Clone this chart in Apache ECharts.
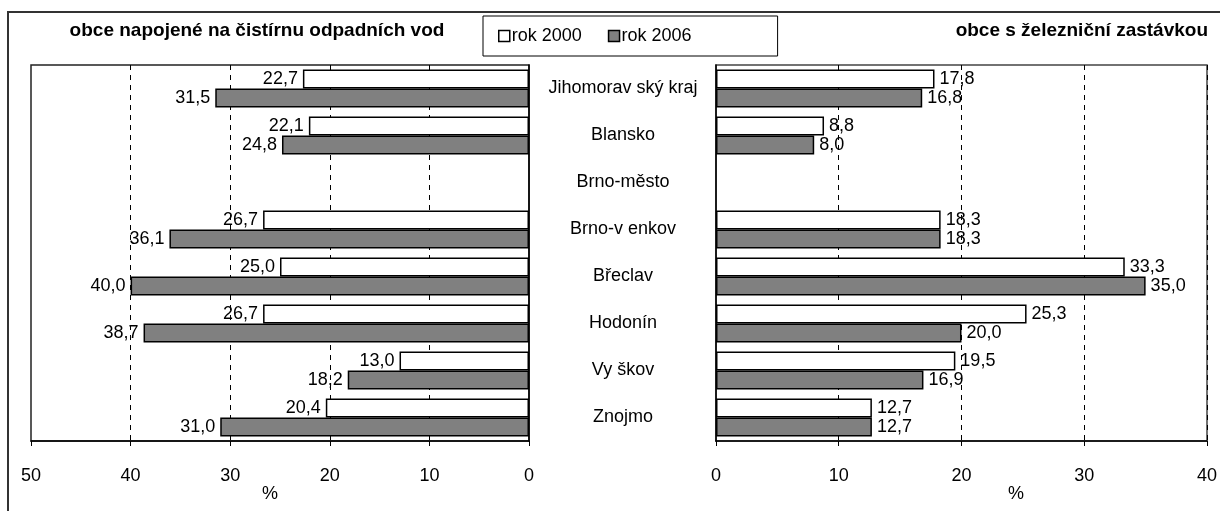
<!DOCTYPE html>
<html>
<head>
<meta charset="utf-8">
<script src="https://cdn.jsdelivr.net/npm/echarts@6/dist/echarts.min.js"></script>
<style>
html,body{margin:0;padding:0;background:#fff;}
#chart{width:1220px;height:511px;}
</style>
</head>
<body>
<div id="chart"></div>
<script>
const categories = ['Jihomorav ský kraj', 'Blansko', 'Brno-město', 'Brno-v enkov', 'Břeclav', 'Hodonín', 'Vy škov', 'Znojmo'];
const seriesNames = ['rok 2000', 'rok 2006'];
const sewage2000 = [22.7, 22.1, null, 26.7, 25.0, 26.7, 13.0, 20.4];
const sewage2006 = [31.5, 24.8, null, 36.1, 40.0, 38.7, 18.2, 31.0];
const rail2000 = [17.8, 8.8, null, 18.3, 33.3, 25.3, 19.5, 12.7];
const rail2006 = [16.8, 8.0, null, 18.3, 35.0, 20.0, 16.9, 12.7];
const leftTitle = 'obce napojené na čistírnu odpadních vod';
const rightTitle = 'obce s železniční zastávkou';
const unitLabel = '%';

const FONT = '"Liberation Sans", Arial, sans-serif';
const FS = 18;
const fmt = p => (p.value == null ? '' : p.value.toFixed(1).replace('.', ','));

const chart = echarts.init(document.getElementById('chart'), null, {renderer: 'canvas'});

function barSeries(name, data, axisIdx, color, pos) {
  return {
    name: name,
    type: 'bar',
    xAxisIndex: axisIdx,
    yAxisIndex: axisIdx,
    data: data,
    barGap: '0%',
    barCategoryGap: '19%',
    itemStyle: {color: color, borderColor: '#000', borderWidth: 1.5},
    label: {
      show: true, position: pos, distance: 5,
      formatter: fmt, color: '#000', fontSize: FS, fontFamily: FONT
    },
    emphasis: {disabled: true},
    animation: false
  };
}

function valueAxis(idx, max, inverse, showMax) {
  return {
    type: 'value', gridIndex: idx, min: 0, max: max, interval: 10, inverse: inverse,
    axisLine: {show: true, onZero: false, lineStyle: {color: '#000', width: 1.5}},
    axisTick: {show: true, length: 5, lineStyle: {color: '#000'}},
    axisLabel: {color: '#000', fontSize: FS, fontFamily: FONT, margin: 26},
    splitLine: {show: true, showMinLine: false, showMaxLine: showMax,
      lineStyle: {color: '#000', type: [5, 5], width: 1}}
  };
}

const option = {
  backgroundColor: '#fff',
  animation: false,
  textStyle: {fontFamily: FONT},
  grid: [
    {left: 31, top: 65, width: 498, height: 376, show: true, borderColor: '#222', borderWidth: 1.5, backgroundColor: 'transparent'},
    {left: 716, top: 65, width: 492, height: 376, show: true, borderColor: '#444', borderWidth: 1.5, backgroundColor: 'transparent'}
  ],
  legend: {
    data: seriesNames,
    left: 483, top: 16,
    padding: [11, 86, 11, 15],
    itemWidth: 11, itemHeight: 11, itemGap: 26,
    borderColor: '#000', borderWidth: 1,
    icon: 'rect',
    itemStyle: {borderColor: '#000', borderWidth: 1.5},
    textStyle: {color: '#000', fontSize: FS, fontFamily: FONT, padding: [0, 0, 0, -3]},
    selectedMode: false
  },
  xAxis: [valueAxis(0, 50, true, false), valueAxis(1, 40, false, true)],
  yAxis: [
    {type: 'category', gridIndex: 0, data: categories, inverse: true, position: 'right',
      axisLine: {show: true, lineStyle: {color: '#000', width: 1.5}},
      axisTick: {show: false}, axisLabel: {show: false}, splitLine: {show: false}},
    {type: 'category', gridIndex: 1, data: categories, inverse: true, position: 'left',
      axisLine: {show: true, lineStyle: {color: '#000', width: 1.5}},
      axisTick: {show: false},
      axisLabel: {show: true, align: 'center', margin: 93, color: '#000', fontSize: FS, fontFamily: FONT},
      splitLine: {show: false}}
  ],
  series: [
    barSeries(seriesNames[0], sewage2000, 0, '#ffffff', 'left'),
    barSeries(seriesNames[1], sewage2006, 0, '#808080', 'left'),
    barSeries(seriesNames[0], rail2000, 1, '#ffffff', 'right'),
    barSeries(seriesNames[1], rail2006, 1, '#808080', 'right')
  ],
  graphic: [
    {type: 'rect', z: -10, silent: true, shape: {x: 8, y: 12, width: 1400, height: 700},
      style: {fill: 'none', stroke: '#333', lineWidth: 2}},
    {type: 'text', silent: true, x: 257, y: 31,
      style: {text: leftTitle, font: 'bold 19px ' + FONT, fill: '#000', textAlign: 'center', textVerticalAlign: 'middle'}},
    {type: 'text', silent: true, x: 1208, y: 31,
      style: {text: rightTitle, font: 'bold 19px ' + FONT, fill: '#000', textAlign: 'right', textVerticalAlign: 'middle'}},
    {type: 'text', silent: true, x: 270, y: 494,
      style: {text: unitLabel, font: FS + 'px ' + FONT, fill: '#000', textAlign: 'center', textVerticalAlign: 'middle'}},
    {type: 'text', silent: true, x: 1016, y: 494,
      style: {text: unitLabel, font: FS + 'px ' + FONT, fill: '#000', textAlign: 'center', textVerticalAlign: 'middle'}}
  ]
};
chart.setOption(option);
</script>
</body>
</html>
